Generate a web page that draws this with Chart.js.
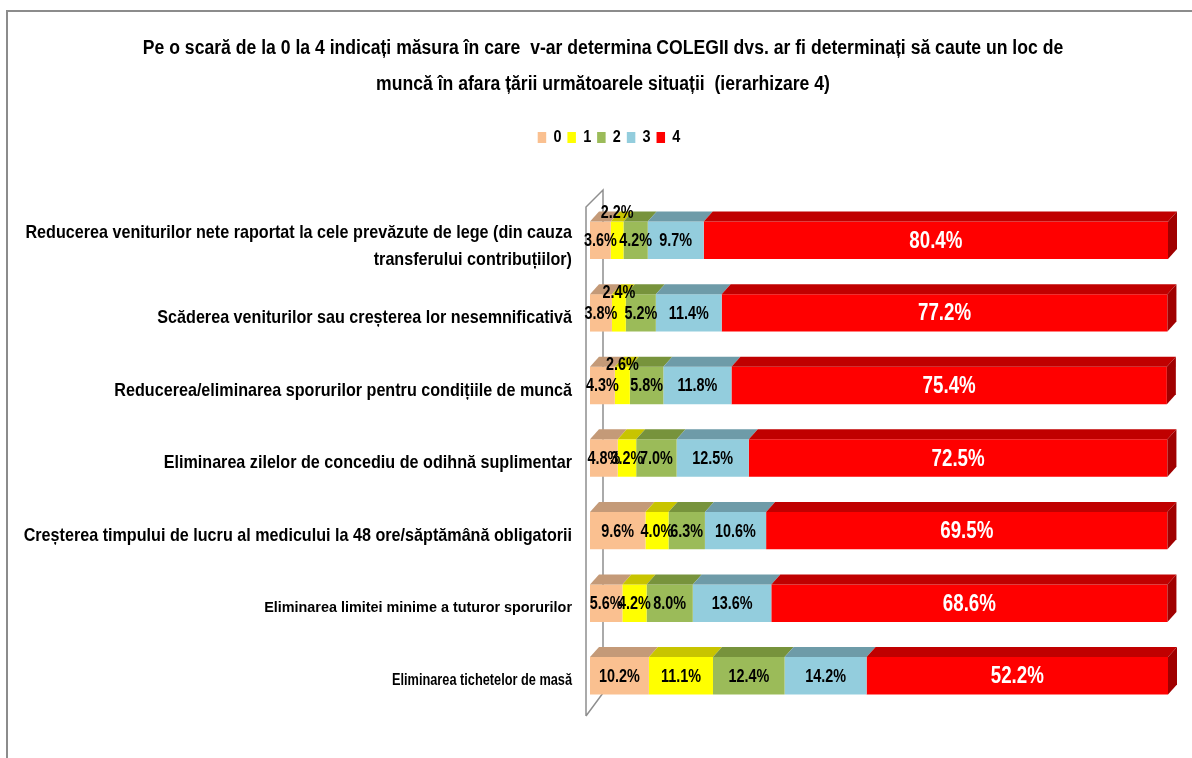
<!DOCTYPE html>
<html><head><meta charset="utf-8">
<script src="https://cdn.jsdelivr.net/npm/chart.js@4.4.1/dist/chart.umd.min.js"></script>
<style>
html,body{margin:0;padding:0;background:#fff;}
#wrap{position:relative;width:1192px;height:758px;overflow:hidden;}
#frame{position:absolute;left:6px;top:10px;width:1200px;height:760px;border-left:2px solid #8c8c8c;border-top:2px solid #8c8c8c;pointer-events:none;}
canvas{position:absolute;left:0;top:0;}
</style></head><body>
<div id="wrap"><canvas id="c" width="1192" height="758"></canvas><div id="frame"></div></div>
<script>
const categories = [
  ['Reducerea veniturilor nete raportat la cele prevăzute de lege (din cauza', 'transferului contribuțiilor)'],
  'Scăderea veniturilor sau creșterea lor nesemnificativă',
  'Reducerea/eliminarea sporurilor pentru condițiile de muncă',
  'Eliminarea zilelor de concediu de odihnă suplimentar',
  'Creșterea timpului de lucru al medicului la 48 ore/săptămână obligatorii',
  'Eliminarea limitei minime a tuturor sporurilor',
  'Eliminarea tichetelor de masă'
];
const seriesNames = ['0', '1', '2', '3', '4'];
const s0 = [3.6, 3.8, 4.3, 4.8, 9.6, 5.6, 10.2];
const s1 = [2.2, 2.4, 2.6, 3.2, 4.0, 4.2, 11.1];
const s2 = [4.2, 5.2, 5.8, 7.0, 6.3, 8.0, 12.4];
const s3 = [9.7, 11.4, 11.8, 12.5, 10.6, 13.6, 14.2];
const s4 = [80.4, 77.2, 75.4, 72.5, 69.5, 68.6, 52.2];
const titleLines = [
  'Pe o scară de la 0 la 4 indicați măsura în care  v-ar determina COLEGII dvs. ar fi determinați să caute un loc de',
  'muncă în afara țării următoarele situații  (ierarhizare 4)'
];

const FONT = "'Liberation Sans', Arial, sans-serif";
const frontColors = ['#FAC090', '#FFFF00', '#9BBB59', '#93CDDD', '#FF0000'];
const topColors   = ['#C49A78', '#C8C400', '#77933C', '#6E9BA8', '#C00000'];
const sideColor = '#A00000';
const DX = 9, DY = 10;

// tick label styling per row (size, horizontal condensing, vertical nudge)
const tickSize  = [19, 19, 19, 19, 19, 14.4, 17];
const tickSqueeze = [0.85, 0.85, 0.85, 0.85, 0.85, 1.0, 0.75];
const tickNudge = [6, 5, 5, 5, 5, 5, 5];

const seriesValues = [s0, s1, s2, s3, s4];

function squeezeBox(box, s, shift) {
  if (!box || box._squeezed) return;
  const orig = box.draw;
  box.draw = function (area) {
    const ctx = this.ctx;
    const cx = (this.left + this.right) / 2;
    ctx.save();
    ctx.translate(cx + shift, 0);
    ctx.scale(s, 1);
    ctx.translate(-cx, 0);
    orig.call(this, area);
    ctx.restore();
  };
  box._squeezed = true;
}

function squeezeTicks(scale) {
  if (!scale || scale._squeezed) return;
  scale.drawLabels = function (chartArea) {
    const ctx = this.ctx;
    const items = this.getLabelItems(chartArea);
    items.forEach((item, i) => {
      const o = item.options;
      const [tx, ty] = o.translation;
      ctx.save();
      ctx.translate(tx, ty + (tickNudge[i] || 0));
      ctx.scale(tickSqueeze[i] || 1, 1);
      ctx.font = item.font.string;
      ctx.fillStyle = o.color;
      ctx.textAlign = o.textAlign;
      ctx.textBaseline = o.textBaseline;
      const lines = Array.isArray(item.label) ? item.label : [item.label];
      let y = item.textOffset;
      lines.forEach(line => { ctx.fillText(line, 0, y); y += Number(item.font.lineHeight); });
      ctx.restore();
    });
  };
  scale._squeezed = true;
}

const condensePlugin = {
  id: 'condense',
  beforeDraw(chart) {
    squeezeBox(chart.titleBlock, 0.88, 14);
    squeezeBox(chart.legend, 0.85, 20);
    squeezeTicks(chart.scales.y);
  }
};

const wallPlugin = {
  id: 'wall',
  beforeDatasetsDraw(chart) {
    const {ctx, chartArea: a} = chart;
    ctx.save();
    ctx.strokeStyle = '#8f8f8f';
    ctx.lineWidth = 1.5;
    ctx.beginPath();
    ctx.moveTo(a.left - 4, a.bottom + 4);
    ctx.lineTo(a.left - 4, a.top + 3);
    ctx.lineTo(a.left + 13, a.top - 14);
    ctx.lineTo(a.left + 13, a.bottom - 19);
    ctx.lineTo(a.left - 4, a.bottom + 4);
    ctx.stroke();
    ctx.restore();
  }
};

const depthPlugin = {
  id: 'depth',
  afterDatasetsDraw(chart) {
    const {ctx} = chart;
    ctx.save();
    const n = chart.data.datasets.length;
    chart.data.datasets.forEach((ds, di) => {
      const meta = chart.getDatasetMeta(di);
      meta.data.forEach((bar) => {
        const p = bar.getProps(['x', 'y', 'base', 'height'], true);
        const x0 = Math.min(p.base, p.x), x1 = Math.max(p.base, p.x);
        const top = p.y - p.height / 2, bottom = p.y + p.height / 2;
        ctx.fillStyle = topColors[di];
        ctx.beginPath();
        ctx.moveTo(x0, top);
        ctx.lineTo(x0 + DX, top - DY);
        ctx.lineTo(x1 + DX, top - DY);
        ctx.lineTo(x1, top);
        ctx.closePath();
        ctx.fill();
        if (di === n - 1) {
          ctx.fillStyle = sideColor;
          ctx.beginPath();
          ctx.moveTo(x1, top);
          ctx.lineTo(x1 + DX, top - DY);
          ctx.lineTo(x1 + DX, bottom - DY);
          ctx.lineTo(x1, bottom);
          ctx.closePath();
          ctx.fill();
        }
      });
    });
    ctx.restore();
  }
};

const raised = {1: {0: -28, 1: -21, 2: -21}};
const labelPlugin = {
  id: 'vlabels',
  afterDatasetsDraw(chart) {
    const {ctx} = chart;
    chart.data.datasets.forEach((ds, di) => {
      const meta = chart.getDatasetMeta(di);
      const last = di === chart.data.datasets.length - 1;
      meta.data.forEach((bar, i) => {
        const p = bar.getProps(['x', 'y', 'base'], true);
        const cx = (p.x + p.base) / 2;
        let cy = p.y + 1;
        if (raised[di] && raised[di][i] !== undefined) cy += raised[di][i];
        ctx.save();
        ctx.translate(cx, cy);
        ctx.scale(last ? 0.78 : 0.8, 1);
        ctx.font = 'bold ' + (last ? 24 : 18) + 'px ' + FONT;
        ctx.fillStyle = last ? '#FFFFFF' : '#000000';
        ctx.textAlign = 'center';
        ctx.textBaseline = 'middle';
        ctx.fillText(ds.data[i].toFixed(1) + '%', 0, 0);
        ctx.restore();
      });
    });
  }
};

new Chart(document.getElementById('c'), {
  type: 'bar',
  data: {
    labels: categories,
    datasets: seriesNames.map((name, i) => ({
      label: name,
      data: seriesValues[i],
      backgroundColor: frontColors[i],
      borderWidth: 0,
      categoryPercentage: 1,
      barPercentage: 0.515
    }))
  },
  options: {
    indexAxis: 'y',
    responsive: false,
    animation: false,
    devicePixelRatio: 1,
    layout: {padding: {top: 10, left: 10, right: 24, bottom: 24}},
    plugins: {
      title: {
        display: true,
        text: titleLines,
        color: '#000',
        font: {family: FONT, size: 20, weight: 'bold', lineHeight: '36px'},
        padding: {top: 20, bottom: 20}
      },
      legend: {
        display: true,
        position: 'top',
        labels: {
          boxWidth: 10,
          boxHeight: 11,
          padding: 7,
          color: '#000',
          font: {family: FONT, size: 17, weight: 'bold'}
        }
      },
      tooltip: {enabled: false}
    },
    scales: {
      x: {
        stacked: true,
        position: 'top',
        min: 0,
        max: 100.1,
        grid: {display: false},
        border: {display: false},
        ticks: {display: false},
        afterFit(s) { s.height = 48; }
      },
      y: {
        stacked: true,
        grid: {display: false, drawTicks: false},
        border: {display: false},
        ticks: {
          autoSkip: false,
          color: '#000',
          padding: 18,
          font: (ctx) => ({family: FONT, size: tickSize[ctx.index] || 19, weight: 'bold', lineHeight: 1.47})
        },
        afterFit(s) { s.width = 580; }
      }
    }
  },
  plugins: [condensePlugin, wallPlugin, depthPlugin, labelPlugin]
});
</script>
</body></html>
